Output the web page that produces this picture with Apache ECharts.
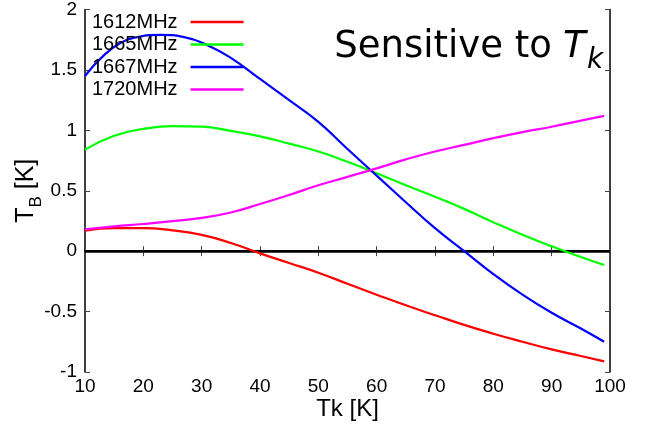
<!DOCTYPE html>
<html><head><meta charset="utf-8">
<script src="https://cdn.jsdelivr.net/npm/echarts@6/dist/echarts.min.js"></script>
<style>html,body{margin:0;padding:0;background:#fff}#c{width:645px;height:433px}</style>
</head><body><div id="c"></div>
<script>
const tk = [10,15,20,25,30,35,40,45,50,55,60,65,70,75,80,85,90,95,99];
const tkBlue = [10,13,16,19,23,27,31,35,40,45,50,55,60,65,70,75,80,85,90,95,99];
const s1612 = [0.17,0.19,0.19,0.172,0.135,0.068,-0.018,-0.098,-0.178,-0.27,-0.36,-0.448,-0.53,-0.61,-0.683,-0.75,-0.813,-0.868,-0.912];
const s1665 = [0.84,0.955,1.012,1.035,1.03,0.995,0.95,0.89,0.825,0.74,0.645,0.545,0.45,0.35,0.24,0.135,0.04,-0.048,-0.115];
const s1667 = [1.45,1.61,1.72,1.772,1.79,1.772,1.705,1.6,1.425,1.25,1.07,0.845,0.625,0.405,0.19,0.0,-0.19,-0.36,-0.51,-0.64,-0.75];
const s1720 = [0.18,0.205,0.225,0.248,0.275,0.32,0.39,0.465,0.545,0.615,0.685,0.76,0.825,0.88,0.935,0.985,1.03,1.08,1.12];
const names = ['1612MHz','1665MHz','1667MHz','1720MHz'];
const colors = ['#ff0000','#00ff00','#0000ff','#ff00ff'];
const allSeries = [[tk,s1612],[tk,s1665],[tkBlue,s1667],[tk,s1720]];

const font = "'Liberation Sans', Arial, Helvetica, sans-serif";
const tfont = "'DejaVu Sans', sans-serif";
const chart = echarts.init(document.getElementById('c'), null, {renderer:'canvas'});
const axLine = {show:true, lineStyle:{color:'#000', width:1.5}};
const tick = {show:true, inside:true, length:5, lineStyle:{color:'#444', width:1}};
const series = allSeries.map(([xs,d],i)=>({
  name: names[i], type:'line', smooth:0.5, symbol:'none', showSymbol:false,
  data: xs.map((x,j)=>[x,d[j]]),
  lineStyle:{color:colors[i], width:2.2}, itemStyle:{color:colors[i]},
  z: 3
}));
series[0].markLine = {silent:true, symbol:'none', label:{show:false},
  lineStyle:{color:'#000', width:2.5, type:'solid'}, data:[{yAxis:0}], z:2};

chart.setOption({
  animation:false,
  grid:{left:85, right:35, top:7, bottom:61},
  legend:{
    data:names, orient:'vertical', left:92, top:12, align:'right', padding:0,
    itemWidth:53, itemHeight:2.5, itemGap:2.5, icon:'rect',
    textStyle:{fontFamily:font, fontSize:20, color:'#000', padding:[0,8,0,0]}
  },
  xAxis:[{
    type:'value', min:10, max:100, interval:10, position:'bottom',
    axisLine:axLine, axisTick:tick, splitLine:{show:false},
    axisLabel:{fontFamily:font, fontSize:19, color:'#000', margin:5},
    name:'Tk [K]', nameLocation:'middle', nameGap:25, nameMoveOverlap:false,
    nameTextStyle:{fontFamily:font, fontSize:24, color:'#000'}
  },{
    type:'value', min:10, max:100, interval:10, position:'top',
    axisLine:axLine, axisTick:tick, axisLabel:{show:false}, splitLine:{show:false}
  }],
  yAxis:[{
    type:'value', min:-1, max:2, interval:0.5, position:'left',
    axisLine:axLine, axisTick:tick, splitLine:{show:false},
    axisLabel:{fontFamily:font, fontSize:19, color:'#000', margin:8},
    name:'{t|T}{b|B}{t| [K]}', nameLocation:'middle', nameGap:40, nameRotate:90, nameMoveOverlap:false,
    nameTextStyle:{fontFamily:font, color:'#000',
      rich:{t:{fontFamily:font, fontSize:25, lineHeight:25, verticalAlign:'top', color:'#000'},
            b:{fontFamily:font, fontSize:17, lineHeight:31, verticalAlign:'bottom', color:'#000'}}}
  },{
    type:'value', min:-1, max:2, interval:0.5, position:'right',
    axisLine:axLine, axisTick:tick, axisLabel:{show:false}, splitLine:{show:false}
  }],
  graphic:[
    {type:'text', z:10, style:{text:'Sensitive to', x:443, y:29, align:'center', textAlign:'center',
      verticalAlign:'top', textVerticalAlign:'top', fontFamily:tfont, fontSize:37, fill:'#000'}},
    {type:'text', z:10, style:{text:'T', x:563, y:29, align:'left', textAlign:'left',
      verticalAlign:'top', textVerticalAlign:'top', fontFamily:tfont, fontStyle:'italic', fontSize:37, fill:'#000'}},
    {type:'text', z:10, style:{text:'k', x:587, y:47, align:'left', textAlign:'left',
      verticalAlign:'top', textVerticalAlign:'top', fontFamily:tfont, fontStyle:'italic', fontSize:28, fill:'#000'}}
  ],
  series: series
});
</script></body></html>
